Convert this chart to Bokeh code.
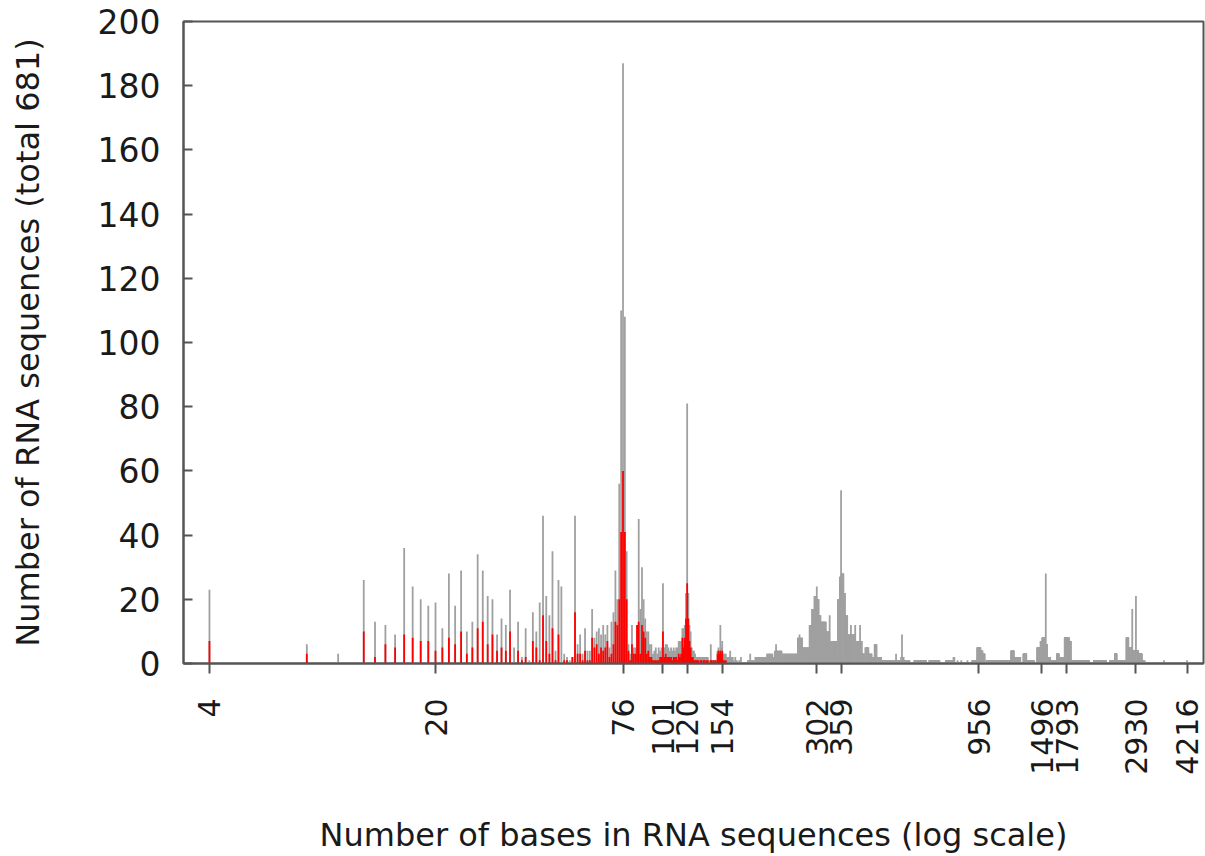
import numpy as np
from bokeh.plotting import figure
from bokeh.models import Range1d, FixedTicker, ColumnDataSource, CustomJSTickFormatter
from bokeh.embed import file_html
from bokeh.resources import INLINE

# ---- data: counts per sequence length (short lengths, read individually) ----
short_len = [4, 8, 10, 12, 13, 14, 15, 16, 17, 18, 19, 20, 21, 22, 23, 24, 25, 26, 27, 28,
             29, 30, 31, 32, 33, 34, 35, 36, 37, 38, 39, 40, 41, 42, 43, 44, 45, 46, 47, 48,
             49, 50, 51, 52, 53, 54, 55, 56, 57, 58, 59, 60, 61, 62, 63, 64, 65, 66, 67, 68,
             69, 70, 71, 72, 73, 74, 75, 76, 77, 78, 79, 80, 81, 82, 83, 84, 85, 86, 87, 88,
             89, 90, 91, 92, 93, 94, 95, 96, 97, 98, 99, 100, 101, 102, 103, 104, 105, 106, 107, 108,
             109, 110, 111, 112, 113, 114, 115, 116, 117, 118, 119, 120, 121, 122, 123, 124, 125, 126, 127, 128,
             129, 130, 131, 132, 133, 134, 135, 136, 137, 138, 139, 140, 141, 142, 143, 144, 145, 146, 147, 148,
             149, 150, 151, 152, 153, 154, 155, 156, 157, 158, 159, 160, 161, 162, 163, 164, 165, 166]
short_gray = [23, 6, 3, 26, 13, 12, 9, 36, 24, 20, 18, 19, 11, 28, 18, 29, 10, 13, 34, 29,
              21, 20, 9, 14, 12, 23, 5, 13, 2, 11, 1, 16, 10, 19, 46, 21, 15, 35, 4, 26,
              24, 3, 2, 1, 2, 46, 6, 9, 3, 11, 4, 4, 17, 8, 10, 11, 9, 12, 9, 12,
              5, 13, 16, 29, 20, 56, 110, 187, 108, 35, 6, 3, 12, 5, 5, 12, 45, 17, 30, 20,
              14, 10, 10, 6, 6, 3, 4, 5, 3, 5, 4, 5, 25, 5, 6, 6, 5, 4, 5, 4,
              5, 4, 5, 5, 7, 7, 7, 11, 11, 12, 22, 81, 22, 12, 10, 5, 4, 4, 3, 2,
              2, 2, 2, 2, 2, 2, 2, 2, 2, 2, 2, 1, 1, 6, 1, 1, 1, 1, 1, 1,
              4, 5, 4, 12, 5, 7, 3, 3, 3, 3, 2, 2, 2, 2, 4, 2, 2, 2]
short_red = [7, 3, 0, 10, 2, 6, 5, 9, 8, 7, 7, 4, 5, 8, 6, 10, 3, 5, 11, 13,
             6, 9, 4, 5, 4, 10, 0, 4, 1, 2, 0, 7, 5, 1, 15, 7, 3, 11, 1, 9,
             0, 1, 1, 0, 2, 16, 3, 3, 1, 4, 1, 1, 8, 5, 6, 3, 5, 4, 5, 7,
             2, 3, 6, 13, 12, 20, 41, 60, 41, 20, 4, 1, 6, 3, 3, 12, 13, 3, 12, 10,
             8, 3, 4, 2, 2, 1, 1, 1, 1, 1, 2, 2, 10, 2, 3, 2, 2, 2, 2, 1,
             2, 2, 2, 1, 3, 2, 3, 8, 5, 8, 14, 25, 14, 7, 5, 2, 2, 1, 1, 1,
             1, 1, 0, 1, 1, 0, 1, 1, 0, 1, 1, 0, 0, 1, 1, 0, 1, 0, 1, 0,
             3, 4, 3, 4, 3, 4, 1, 1, 0, 1, 0, 0, 0, 0, 0, 0, 0, 0]

# ---- data: long lengths, given as runs of equal count (length from..to, count) ----
run_start = [167, 169, 171, 174, 176, 185, 188, 189, 195, 201, 212, 221, 224, 226, 227,
             236, 264, 267, 268, 273, 287, 292, 297, 302, 303, 307, 311, 323, 331, 332,
             351, 356, 359, 360, 366, 370, 376, 385, 386, 397, 398, 411, 412, 417, 427,
             437, 447, 456, 463, 478, 531, 532, 551, 554, 555, 561, 605, 673, 757, 800,
             823, 845, 883, 914, 947, 969, 983, 1012, 1085, 1134, 1206, 1228, 1316, 1343, 1452,
             1487, 1506, 1531, 1542, 1543, 1555, 1610, 1671, 1710, 1765, 1821, 1841, 2175, 2443, 2526,
             2551, 2742, 2775, 2831, 2854, 2855, 2930, 2931, 2978, 3049, 3120, 3577, 4216]
run_end = [167, 169, 171, 174, 176, 187, 188, 193, 200, 211, 220, 223, 225, 226, 235,
           263, 266, 267, 272, 286, 291, 296, 301, 302, 306, 310, 322, 330, 331, 350,
           355, 358, 359, 365, 369, 375, 384, 385, 396, 397, 410, 411, 416, 426, 436,
           446, 455, 462, 477, 530, 531, 550, 553, 554, 560, 584, 657, 723, 799, 804,
           823, 845, 883, 946, 968, 982, 997, 1073, 1122, 1196, 1227, 1286, 1342, 1415, 1486,
           1505, 1530, 1541, 1542, 1554, 1591, 1670, 1690, 1752, 1820, 1840, 2099, 2362, 2508, 2550,
           2710, 2774, 2830, 2853, 2854, 2929, 2930, 2977, 3048, 3085, 3120, 3577, 4216]
run_gray = [1, 2, 1, 1, 2, 1, 3, 1, 2, 2, 3, 2, 4, 6, 4,
            3, 8, 9, 8, 5, 12, 17, 21, 24, 20, 15, 13, 10, 15, 7,
            20, 27, 54, 28, 22, 15, 9, 12, 9, 12, 7, 12, 7, 3, 5,
            3, 2, 6, 2, 1, 3, 1, 2, 9, 2, 1, 1, 1, 1, 2,
            1, 1, 1, 1, 5, 4, 3, 1, 1, 1, 4, 2, 3, 1, 5,
            7, 8, 6, 28, 6, 2, 1, 3, 2, 8, 7, 1, 1, 1, 3,
            1, 8, 5, 2, 17, 4, 21, 4, 3, 1, 1, 1, 1]

x_tick_values = [4, 20, 76, 101, 120, 154, 302, 359, 956, 1496, 1793, 2930, 4216]
y_tick_values = [0, 20, 40, 60, 80, 100, 120, 140, 160, 180, 200]

# ---- build sources ----
gray_x = list(short_len)
gray_y = list(short_gray)
for s, e, c in zip(run_start, run_end, run_gray):
    for L in range(s, e + 1):
        gray_x.append(L)
        gray_y.append(c)
gray_src = ColumnDataSource(dict(x=gray_x, y0=[0] * len(gray_x), y1=gray_y))

red_x = [L for L, r in zip(short_len, short_red) if r > 0]
red_y = [r for r in short_red if r > 0]
red_src = ColumnDataSource(dict(x=red_x, y0=[0] * len(red_x), y1=red_y))

p = figure(width=1205, height=856, x_axis_type="log",
           x_range=Range1d(3.325, 4740), y_range=Range1d(0, 200),
           output_backend="svg", toolbar_location=None,
           min_border_left=183, min_border_right=2, min_border_top=21, min_border_bottom=191)

p.segment(x0="x", y0="y0", x1="x", y1="y1", source=gray_src,
          line_color="#a0a0a0", line_width=1.8)
p.segment(x0="x", y0="y0", x1="x", y1="y1", source=red_src,
          line_color="#ff0000", line_width=1.8)

p.xgrid.visible = False
p.ygrid.visible = False
p.background_fill_color = "white"
p.border_fill_color = "white"
p.outline_line_color = "#555555"
p.outline_line_width = 2

font = "DejaVu Sans"
frame_col = "#555555"

p.xaxis.ticker = FixedTicker(ticks=x_tick_values)
p.xaxis.formatter = CustomJSTickFormatter(code="return tick.toFixed(0);")
p.xaxis.major_label_orientation = np.pi / 2
p.xaxis.minor_tick_line_color = None
p.xaxis.major_tick_in = 0
p.xaxis.major_tick_out = 10
p.xaxis.major_label_standoff = 25
p.xaxis.axis_label = "Number of bases in RNA sequences (log scale)"
p.xaxis.axis_label_standoff = 38

p.yaxis.ticker = FixedTicker(ticks=y_tick_values)
p.yaxis.minor_tick_line_color = None
p.yaxis.major_tick_in = 9
p.yaxis.major_tick_out = 0
p.yaxis.major_label_standoff = 23
p.yaxis.axis_label = "Number of RNA sequences (total 681)"
p.yaxis.axis_label_standoff = 48

for ax in (p.xaxis[0], p.yaxis[0]):
    ax.axis_line_color = frame_col
    ax.axis_line_width = 2
    ax.major_tick_line_color = frame_col
    ax.major_tick_line_width = 2
    ax.major_label_text_font = font
    ax.major_label_text_color = "#1a1a1a"
    ax.axis_label_text_font = font
    ax.axis_label_text_font_size = "32px"
    ax.axis_label_text_font_style = "normal"
    ax.axis_label_text_color = "#1a1a1a"

p.xaxis.major_label_text_font_size = "30px"
p.yaxis.major_label_text_font_size = "33px"

open("out.html", "w").write(file_html(p, INLINE))
